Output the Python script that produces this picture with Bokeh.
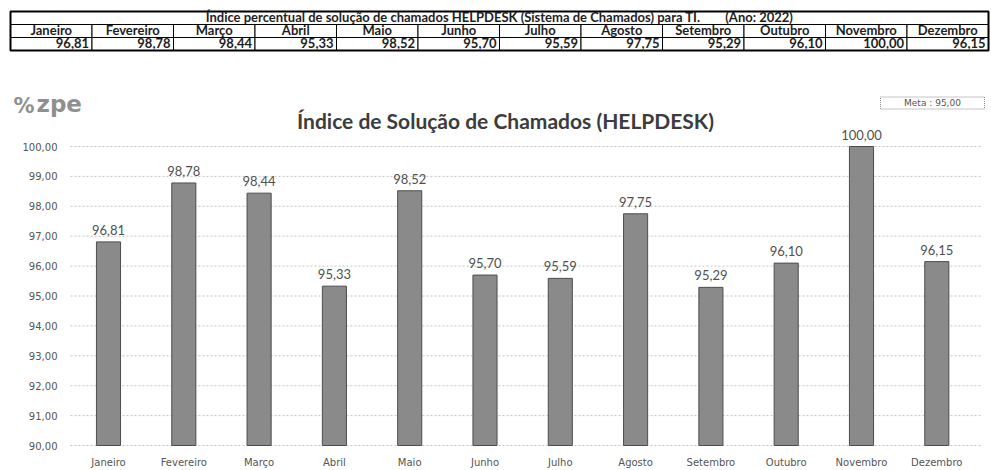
from bokeh.plotting import figure
from bokeh.models import ColumnDataSource, Range1d, FixedTicker, Label
from bokeh.layouts import column
from bokeh.embed import file_html
from bokeh.resources import INLINE
from bokeh.core.properties import value

# ---------------- data ----------------
months = ["Janeiro", "Fevereiro", "Março", "Abril", "Maio", "Junho",
          "Julho", "Agosto", "Setembro", "Outubro", "Novembro", "Dezembro"]
indice = [96.81, 98.78, 98.44, 95.33, 98.52, 95.70, 95.59, 97.75, 95.29, 96.10, 100.00, 96.15]
meta = 95.00
y_ticks = [90, 91, 92, 93, 94, 95, 96, 97, 98, 99, 100]
y_tick_labels = ["90,00", "91,00", "92,00", "93,00", "94,00", "95,00",
                 "96,00", "97,00", "98,00", "99,00", "100,00"]
table_title = "Índice percentual de solução de chamados HELPDESK (Sistema de Chamados) para TI."
table_year = "(Ano: 2022)"
chart_title = "Índice de Solução de Chamados (HELPDESK)"
logo_text = "zpe"


def br(v):
    return f"{v:.2f}".replace(".", ",")


W = 991
TBL_H = 55
CH_H = 415
n = len(months)

# ---------------- table ----------------
col_left, col_right = 10, 988
col_w = (col_right - col_left) / n
tx0 = -col_left / col_w
tx1 = tx0 + W / col_w
tbl = figure(width=W, height=TBL_H, x_range=Range1d(tx0, tx1), y_range=Range1d(TBL_H, 0),
             output_backend="svg", toolbar_location=None, min_border=0,
             x_axis_location=None, y_axis_location=None)
tbl.grid.visible = False
tbl.outline_line_color = None

centers = [i + 0.5 for i in range(n)]
rights = [i + 1 for i in range(n)]
row_h = 13
y_title, y_head, y_val = 17.5, 30.5, 43.5

tbl.rect(x=[n / 2], y=[y_title], width=n, height=row_h, fill_color="white", line_color="black")
tbl.rect(x=centers, y=y_head, width=1, height=row_h, fill_color="white", line_color="black")
tbl.rect(x=centers, y=y_val, width=1, height=row_h, fill_color="white", line_color="black")
tbl.quad(left=[0], right=[n], top=[y_title - row_h / 2], bottom=[y_val + row_h / 2],
         fill_color=None, line_color="black", line_width=2)

tfont = value("Lato")
tsize = "13px"
tcol = "#1e1e1e"
tbl.text(x=[n / 2], y=[y_title], text=[table_title + "\u00a0" * 8 + table_year],
         y_offset=-1, text_align="center", text_baseline="middle", text_font=tfont,
         text_font_style="bold", text_font_size=tsize, text_color=tcol)
tbl.text(x=centers, y=y_head, text=months, y_offset=-1, text_align="center", text_baseline="middle",
         text_font=tfont, text_font_style="bold", text_font_size=tsize, text_color=tcol)
tbl.text(x=rights, y=y_val, text=[br(v) for v in indice], x_offset=-3, y_offset=-1,
         text_align="right", text_baseline="middle",
         text_font=tfont, text_font_style="bold", text_font_size=tsize, text_color=tcol)

# ---------------- chart ----------------
BOTTOM = 17
frame_h = CH_H - BOTTOM
first_center, pitch = 108, 75.3
x0 = -first_center / pitch
x1 = x0 + W / pitch
ppu_y = 29.9
base = 90
yr0 = base - 8 / ppu_y
yr1 = yr0 + frame_h / ppu_y

p = figure(width=W, height=CH_H, x_range=Range1d(x0, x1), y_range=Range1d(yr0, yr1),
           output_backend="svg", toolbar_location=None, y_axis_location=None,
           min_border_left=0, min_border_right=0, min_border_top=0, min_border_bottom=BOTTOM)
p.outline_line_color = None
p.grid.visible = False


def dx(cx):
    return x0 + cx / pitch


def dy(cy):
    return yr0 + (frame_h - cy) / ppu_y


# grid lines and y labels
p.segment(x0=dx(70), x1=dx(981), y0=y_ticks, y1=y_ticks, line_color="#c4c4c4",
          line_dash="2 2", line_width=1)
p.text(x=dx(57), y=y_ticks, text=y_tick_labels, text_align="right", text_baseline="middle",
       text_font=value("DejaVu Sans"), text_font_size="10px", text_color="#555555")

xs = list(range(n))
src = ColumnDataSource(dict(x=xs, v=indice, lbl=[br(v) for v in indice]))

p.vbar(x="x", top="v", bottom=base, width=0.32, source=src,
       fill_color="#8a8a8a", line_color="#4d4d4d", line_width=1)
p.text(x="x", y="v", text="lbl", source=src, text_align="center", text_baseline="bottom",
       y_offset=-7, text_font=value("Lato"), text_font_size="13px", text_color="#505050")

# x axis
ax = p.xaxis[0]
ax.ticker = FixedTicker(ticks=xs)
ax.major_label_overrides = {i: m for i, m in zip(xs, months)}
ax.axis_line_color = None
ax.major_tick_line_color = None
ax.minor_tick_line_color = None
ax.major_tick_out = 0
ax.major_tick_in = 0
ax.minor_tick_out = 0
ax.major_label_text_font = "DejaVu Sans"
ax.major_label_text_font_size = "10px"
ax.major_label_text_color = "#555555"
ax.major_label_standoff = 3

# title
p.add_layout(Label(x=dx(505), y=dy(65), text=chart_title, text_align="center",
                   text_baseline="middle", text_font="Lato", text_font_style="bold",
                   text_font_size="21px", text_color="#3c3c3c"))

# logo
p.add_layout(Label(x=dx(13), y=dy(50), text="%", text_align="left", text_baseline="middle",
                   text_font="DejaVu Sans", text_font_style="bold", text_font_size="21px",
                   text_color="#8f8f8f"))
p.add_layout(Label(x=dx(36), y=dy(48), text=logo_text, text_align="left", text_baseline="middle",
                   text_font="DejaVu Sans", text_font_style="bold", text_font_size="23px",
                   text_color="#8f8f8f"))

# meta box
mx, my = dx(932), dy(47.5)
p.rect(x=[mx], y=[my], width=104, height=12, width_units="screen", height_units="screen",
       fill_color="white", line_color="#8a8a8a", line_dash="1 1")
p.text(x=[mx], y=[my], text=["Meta : " + br(meta)], text_align="center", text_baseline="middle",
       text_font=value("DejaVu Sans"), text_font_size="9px", text_color="#555555")

layout = column(tbl, p, spacing=0)
open("out.html", "w").write(file_html(layout, INLINE))
